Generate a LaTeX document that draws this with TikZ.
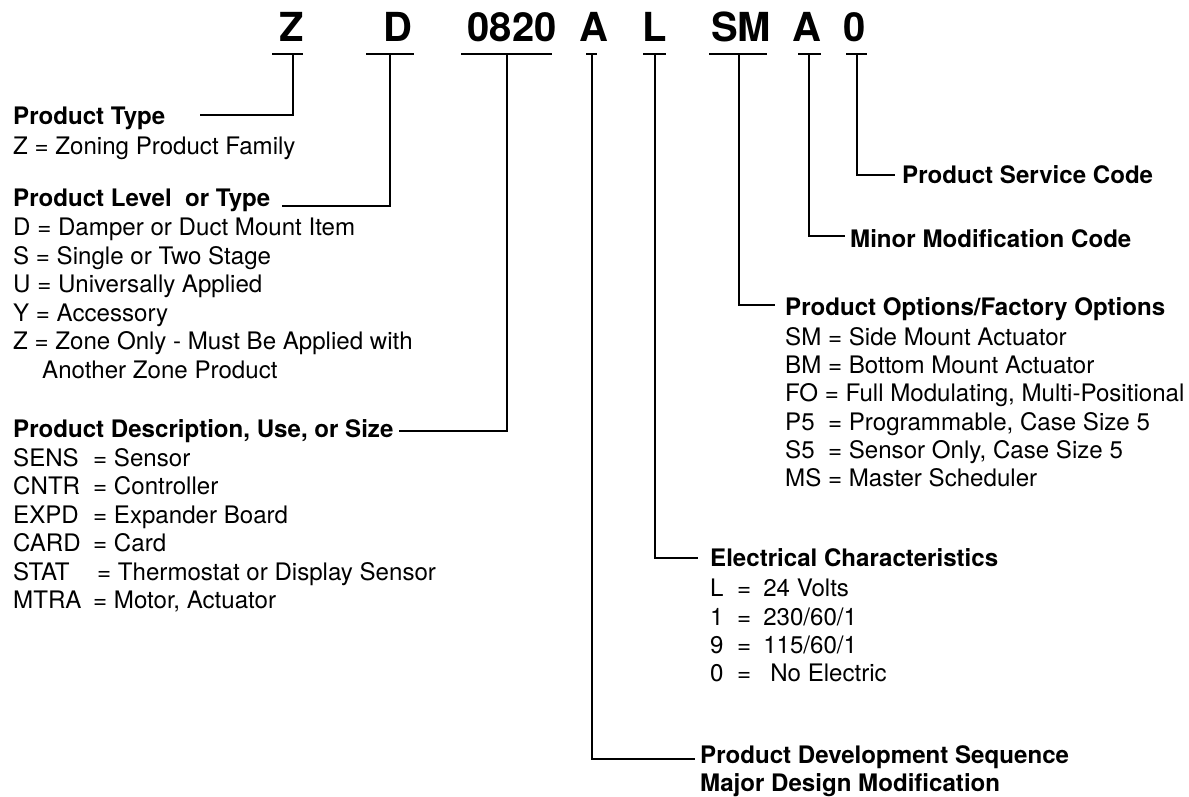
\documentclass[tikz,border=0pt]{standalone}
\usepackage{fontspec}
\setmainfont{TeX Gyre Heros}
\begin{document}
\tikzset{
  code/.style={font=\fontsize{40}{48}\selectfont\bfseries, inner sep=0pt, anchor=base},
  head/.style={font=\fontsize{24.1}{28.4}\selectfont\bfseries, inner sep=0pt, anchor=base west},
  item/.style={font=\fontsize{24.1}{28.4}\selectfont, inner sep=0pt, anchor=base west},
  bar/.style={line width=2.2pt},
  conn/.style={line width=1.8pt},
}
\begin{tikzpicture}[x=1pt,y=-1pt]
\path[use as bounding box] (0,0) rectangle (1189,797);

% top code
\node[code] (cZ)  at (292,42)   {Z};
\node[code] (cD)  at (397.5,42) {D};
\node[code] (cN)  at (512,42)   {0820};
\node[code] (cA)  at (594,42)   {A};
\node[code] (cL)  at (655,42)   {L};
\node[code] (cSM) at (741,42)   {SM};
\node[code] (cA2) at (807,42)   {A};
\node[code] (c0)  at (855,42)   {0};

% bars under code letters
\draw[bar] (272,54) -- (303,54);
\draw[bar] (366,54) -- (414,54);
\draw[bar] (461,54) -- (552,54);
\draw[bar] (586,54) -- (597,54);
\draw[bar] (643,54) -- (666,54);
\draw[bar] (709,54) -- (767,54);
\draw[bar] (798,54) -- (821,54);
\draw[bar] (846,54) -- (867,54);

% connector starts
\coordinate (vZ)  at (293,54);
\coordinate (vD)  at (390,54);
\coordinate (vN)  at (507,54);
\coordinate (vA)  at (592,54);
\coordinate (vL)  at (655,54);
\coordinate (vSM) at (739,54);
\coordinate (vA2) at (809,54);
\coordinate (v0)  at (857,54);

% connector ends
\coordinate (eZ)  at (200,115);
\coordinate (eD)  at (282,206);
\coordinate (eN)  at (399,431);
\coordinate (eA)  at (695,759);
\coordinate (eL)  at (698,558);
\coordinate (eSM) at (775,305);
\coordinate (eA2) at (845,236);
\coordinate (e0)  at (895,175);

\draw[conn] (vZ)  |- (eZ);
\draw[conn] (vD)  |- (eD);
\draw[conn] (vN)  |- (eN);
\draw[conn] (vA)  |- (eA);
\draw[conn] (vL)  |- (eL);
\draw[conn] (vSM) |- (eSM);
\draw[conn] (vA2) |- (eA2);
\draw[conn] (v0)  |- (e0);

% left: product type
\node[head] (hPT) at (13,125) {Product Type};
\node[item] (iPT) at (13,155) {Z = Zoning Product Family};

% left: product level
\node[head] (hPL) at (13,207) {Product Level\ \ or Type};
\node[item] (iPL1) at (13,235.5) {D = Damper or Duct Mount Item};
\node[item] (iPL2) at (13,264)   {S = Single or Two Stage};
\node[item] (iPL3) at (13,292.5) {U = Universally Applied};
\node[item] (iPL4) at (13,321)   {Y = Accessory};
\node[item] (iPL5) at (13,349.5) {Z = Zone Only - Must Be Applied with};
\node[item] (iPL6) at (42,378)   {Another Zone Product};

% left: product description
\node[head] (hPD) at (13,437) {Product Description, Use, or Size};
\node[item] (iPD1) at (13,466)   {\makebox[80pt][l]{SENS}= Sensor};
\node[item] (iPD2) at (13,494.5) {\makebox[80pt][l]{CNTR}= Controller};
\node[item] (iPD3) at (13,523)   {\makebox[80pt][l]{EXPD}= Expander Board};
\node[item] (iPD4) at (13,551.5) {\makebox[80pt][l]{CARD}= Card};
\node[item] (iPD5) at (13,580)   {\makebox[84pt][l]{STAT}= Thermostat or Display Sensor};
\node[item] (iPD6) at (13,608.5) {\makebox[80pt][l]{MTRA}= Motor, Actuator};

% right: service and minor
\node[head] (hPS) at (902,183) {Product Service Code};
\node[head] (hMM) at (850,247) {Minor Modification Code};

% right: options
\node[head] (hPO) at (785,315) {Product Options/Factory Options};
\node[item] (iPO1) at (785,345) {SM = Side Mount Actuator};
\node[item] (iPO2) at (785,373) {BM = Bottom Mount Actuator};
\node[item] (iPO3) at (785,401) {FO = Full Modulating, Multi-Positional};
\node[item] (iPO4) at (785,430) {P5\ \ = Programmable, Case Size 5};
\node[item] (iPO5) at (785,458) {S5\ \ = Sensor Only, Case Size 5};
\node[item] (iPO6) at (785,486) {MS = Master Scheduler};

% electrical
\node[head] (hEC) at (710,566) {Electrical Characteristics};
\node[item] (iEC1) at (710,596) {\makebox[27pt][l]{L}=\hspace{12pt}24 Volts};
\node[item] (iEC2) at (710,625) {\makebox[27pt][l]{1}=\hspace{12pt}230/60/1};
\node[item] (iEC3) at (710,653) {\makebox[27pt][l]{9}=\hspace{12pt}115/60/1};
\node[item] (iEC4) at (710,681) {\makebox[27pt][l]{0}=\hspace{19pt}No Electric};

% development sequence
\node[head] (hDS) at (700,763) {Product Development Sequence};
\node[head] (hDM) at (700,791) {Major Design Modification};
\end{tikzpicture}
\end{document}
